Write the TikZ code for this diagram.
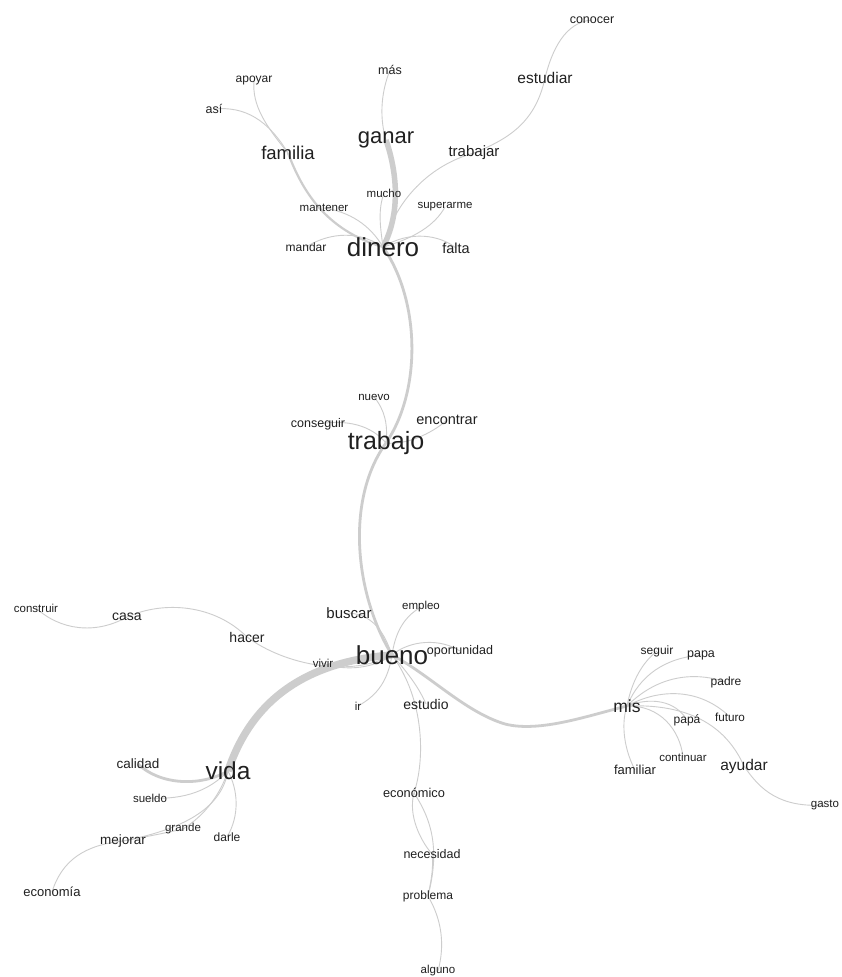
\documentclass[tikz,border=0pt]{standalone}
\usepackage{fontspec}
\setmainfont{Liberation Sans}
\pgfdeclarelayer{back}
\pgfdeclarelayer{bg}
\pgfsetlayers{back,bg,main}
\definecolor{edgec}{HTML}{CDCDCD}
\definecolor{txtc}{HTML}{202020}
\begin{document}
\begin{tikzpicture}[x=1pt,y=-1pt,
  wd/.style={text=txtc, inner sep=0pt, font=\fontsize{#1}{#1}\selectfont},
  lnk/.style={draw=edgec, line width=0.9pt},
  lnkm/.style={draw=edgec, line width=2.2pt},
  lnkt/.style={draw=edgec, line width=2.8pt},
  lnkx/.style={draw=edgec, line width=5.5pt},
  lnkxx/.style={draw=edgec, line width=7.5pt}]
\begin{pgfonlayer}{back}
\fill[white] (0,0) rectangle (842,977);
\end{pgfonlayer}
\useasboundingbox (0,0) rectangle (842,977);
% top cluster
\node[wd=12.5] (conocer) at (592,20) {conocer};
\node[wd=15.5] (estudiar) at (545,78) {estudiar};
\node[wd=12.5] (mas) at (390,70) {más};
\node[wd=12] (apoyar) at (254,81) {apoyar};
\node[wd=12.5] (asi) at (214,109) {así};
\node[wd=18.5] (familia) at (288,153) {familia};
\node[wd=22] (ganar) at (386,140) {ganar};
\node[wd=15] (trabajar) at (474,153) {trabajar};
\node[wd=11.5] (mucho) at (384,193) {mucho};
\node[wd=11.5] (mantener) at (324,208) {mantener};
\node[wd=11.5] (superarme) at (445,207) {superarme};
\node[wd=12] (mandar) at (306,247) {mandar};
\node[wd=26] (dinero) at (383,247) {dinero};
\node[wd=14.5] (falta) at (456,248) {falta};
% trabajo
\node[wd=11.5] (nuevo) at (374,397) {nuevo};
\node[wd=12.5] (conseguir) at (318,424) {conseguir};
\node[wd=14.5] (encontrar) at (447,420) {encontrar};
\node[wd=25] (trabajo) at (386,443) {trabajo};
% bueno
\node[wd=11.5] (construir) at (36,608) {construir};
\node[wd=14] (casa) at (127,617) {casa};
\node[wd=14] (hacer) at (247,637) {hacer};
\node[wd=15] (buscar) at (349,613) {buscar};
\node[wd=11.5] (empleo) at (421,607) {empleo};
\node[wd=26] (bueno) at (392,655) {bueno};
\node[wd=12.5] (oportunidad) at (460,651) {oportunidad};
\node[wd=11.5] (vivir) at (323,663) {vivir};
\node[wd=11.5] (ir) at (358,706) {ir};
\node[wd=14] (estudio) at (426,704) {estudio};
\node[wd=12.8] (economico) at (414,793) {económico};
\node[wd=12.5] (necesidad) at (432,854) {necesidad};
\node[wd=12] (problema) at (428,896) {problema};
\node[wd=11.5] (alguno) at (438,971) {alguno};
% vida
\node[wd=13.5] (calidad) at (138,764) {calidad};
\node[wd=24.5] (vida) at (228,771) {vida};
\node[wd=11.5] (sueldo) at (150,798) {sueldo};
\node[wd=11.5] (grande) at (183,829) {grande};
\node[wd=13.5] (mejorar) at (123,841) {mejorar};
\node[wd=12] (darle) at (227,837) {darle};
\node[wd=13] (economia) at (52,892) {economía};
% mis
\node[wd=12] (seguir) at (657,651) {seguir};
\node[wd=12.5] (papa) at (701,655) {papa};
\node[wd=12] (padre) at (726,682) {padre};
\node[wd=17.5] (mis) at (627,706) {mis};
\node[wd=12] (papaa) at (687,720) {papá};
\node[wd=11.7] (futuro) at (730,717) {futuro};
\node[wd=11.5] (continuar) at (683,757) {continuar};
\node[wd=13] (familiar) at (635,770) {familiar};
\node[wd=15.5] (ayudar) at (744,766) {ayudar};
\node[wd=11.5] (gasto) at (825,805) {gasto};
\begin{pgfonlayer}{bg}
% top
\draw[lnk] (conocer.center) .. controls (565,22) and (552,50) .. (estudiar.center);
\draw[lnk] (estudiar.center) .. controls (535,125) and (505,140) .. (trabajar.center);
\draw[lnk] (trabajar.center) .. controls (430,165) and (395,200) .. (dinero.center);
\draw[lnk] (mas.center) .. controls (380,95) and (380,120) .. (ganar.center);
\draw[lnkx] (ganar.center) .. controls (398,175) and (400,215) .. (dinero.center);
\draw[lnk] (apoyar.center) .. controls (252,105) and (265,125) .. (familia.center);
\draw[lnk] (asi.center) .. controls (245,106) and (268,120) .. (familia.center);
\draw[lnkm] (familia.center) .. controls (302,190) and (325,230) .. (dinero.center);
\draw[lnk] (mantener.center) .. controls (350,212) and (370,225) .. (dinero.center);
\draw[lnk] (mandar.center) .. controls (325,235) and (355,228) .. (dinero.center);
\draw[lnk] (mucho.center) .. controls (378,210) and (380,225) .. (dinero.center);
\draw[lnk] (superarme.center) .. controls (435,225) and (415,238) .. (dinero.center);
\draw[lnk] (falta.center) .. controls (440,235) and (410,230) .. (dinero.center);
% trunk
\draw[lnkt] (dinero.center) .. controls (420,300) and (422,390) .. (trabajo.center);
\draw[lnkt] (trabajo.center) .. controls (345,500) and (355,595) .. (bueno.center);
% trabajo
\draw[lnk] (nuevo.center) .. controls (385,410) and (388,425) .. (trabajo.center);
\draw[lnk] (conseguir.center) .. controls (355,418) and (375,430) .. (trabajo.center);
\draw[lnk] (encontrar.center) .. controls (430,435) and (405,445) .. (trabajo.center);
% bueno
\draw[lnk] (buscar.center) .. controls (375,615) and (385,635) .. (bueno.center);
\draw[lnk] (empleo.center) .. controls (402,618) and (395,635) .. (bueno.center);
\draw[lnk] (oportunidad.center) .. controls (440,638) and (410,640) .. (bueno.center);
\draw[lnk] (vivir.center) .. controls (345,672) and (375,668) .. (bueno.center);
\draw[lnk] (construir.center) .. controls (60,630) and (95,635) .. (casa.center);
\draw[lnk] (casa.center) .. controls (165,600) and (215,605) .. (hacer.center);
\draw[lnk] (hacer.center) .. controls (285,665) and (350,678) .. (bueno.center);
\draw[lnk] (ir.center) .. controls (378,695) and (388,680) .. (bueno.center);
\draw[lnkxx] (vida.center) .. controls (250,705) and (300,662) .. (bueno.center);
\draw[lnk] (bueno.center) .. controls (410,675) and (420,690) .. (estudio.center);
\draw[lnk] (bueno.center) .. controls (425,700) and (425,760) .. (economico.center);
\draw[lnk] (economico.center) .. controls (408,815) and (420,840) .. (necesidad.center);
\draw[lnk] (economico.center) .. controls (432,820) and (440,850) .. (problema.center);
\draw[lnk] (necesidad.center) .. controls (434,870) and (430,885) .. (problema.center);
\draw[lnk] (problema.center) .. controls (442,920) and (445,945) .. (alguno.center);
\draw[lnkt] (bueno.center) .. controls (430,675) and (465,712) .. (505,724) .. controls (540,733) and (590,715) .. (mis.center);
% vida
\draw[lnkt] (calidad.center) .. controls (160,785) and (200,787) .. (vida.center);
\draw[lnk] (sueldo.center) .. controls (185,800) and (210,790) .. (vida.center);
\draw[lnk] (grande.center) .. controls (205,815) and (220,795) .. (vida.center);
\draw[lnk] (mejorar.center) .. controls (150,836) and (170,832) .. (grande.center);
\draw[lnk] (mejorar.center) .. controls (190,828) and (222,805) .. (vida.center);
\draw[lnk] (economia.center) .. controls (62,860) and (85,845) .. (mejorar.center);
\draw[lnk] (darle.center) .. controls (240,815) and (238,790) .. (vida.center);
% mis
\draw[lnk] (seguir.center) .. controls (643,662) and (632,680) .. (mis.center);
\draw[lnk] (papa.center) .. controls (665,658) and (640,675) .. (mis.center);
\draw[lnk] (padre.center) .. controls (690,670) and (655,678) .. (mis.center);
\draw[lnk] (futuro.center) .. controls (700,688) and (660,688) .. (mis.center);
\draw[lnk] (papaa.center) .. controls (675,700) and (650,697) .. (mis.center);
\draw[lnk] (ayudar.center) .. controls (730,735) and (700,703) .. (mis.center);
\draw[lnk] (ayudar.center) .. controls (760,790) and (780,808) .. (gasto.center);
\draw[lnk] (continuar.center) .. controls (680,730) and (660,705) .. (mis.center);
\draw[lnk] (familiar.center) .. controls (622,745) and (622,720) .. (mis.center);
\end{pgfonlayer}
\end{tikzpicture}
\end{document}
